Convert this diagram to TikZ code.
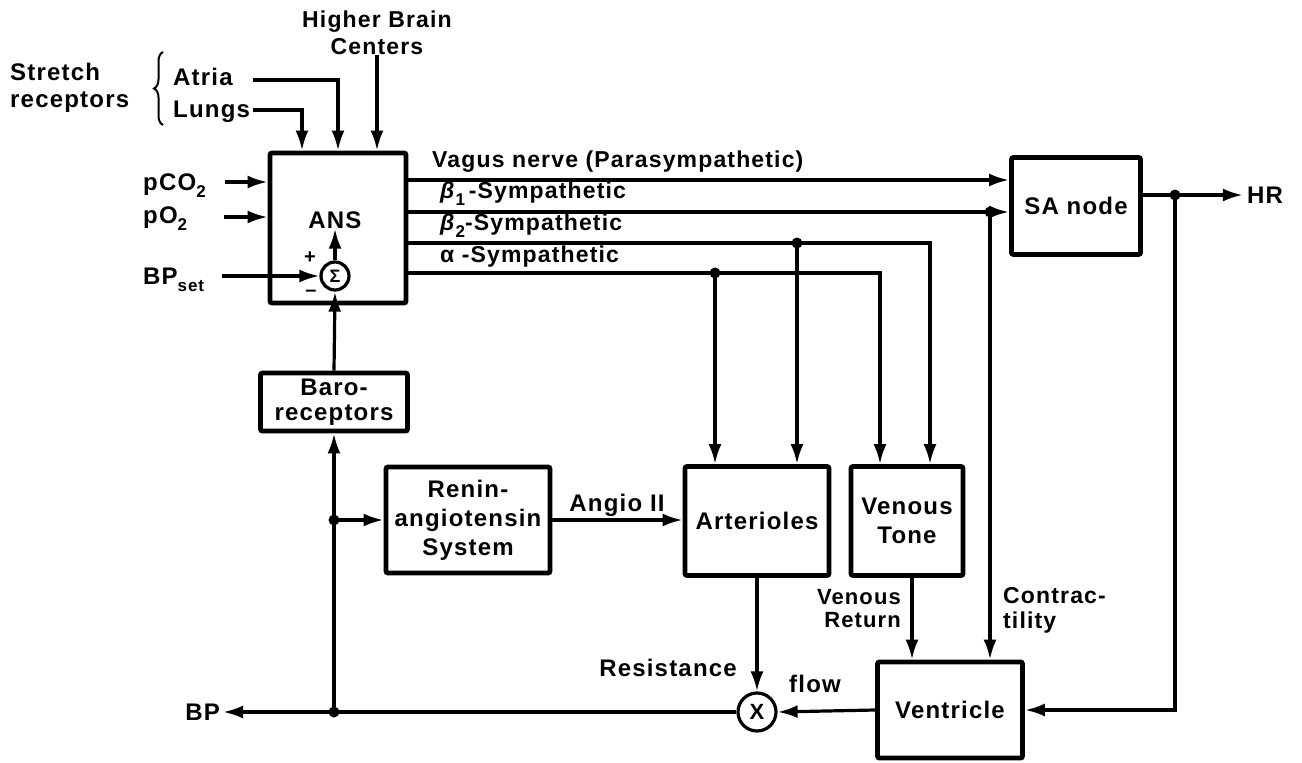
\documentclass[tikz,border=0pt]{standalone}
\usepackage{fontspec}
\setmainfont{Liberation Sans}[LetterSpace=5]
\usetikzlibrary{arrows.meta,decorations.pathreplacing}
\newcommand\mysub[1]{\raisebox{-0.55ex}{\fontsize{17}{17}\selectfont #1}}
\begin{document}
\begin{tikzpicture}[x=1pt,y=-1pt,
 lbl/.style={font=\fontsize{24}{27}\selectfont\bfseries, inner sep=0pt},
 blk/.style={draw, line width=4.8pt, rounded corners=2pt, font=\fontsize{24}{29}\selectfont\bfseries, align=center, inner sep=0pt},
 conn/.style={line width=3.2pt},
 arr/.style={conn, -{Latex[length=20pt,width=13pt]}},
 junc/.style={circle, fill, inner sep=0pt, minimum size=11pt},
 opcirc/.style={draw, circle, line width=3.2pt, inner sep=0pt}]
\useasboundingbox (0,0) rectangle (1302,763);

% blocks
\node[blk, minimum width=136pt, minimum height=150pt] (ANS) at (338,228) {};
\node[lbl] (anslbl) at (335,220) {ANS};
\node[opcirc, minimum size=28pt, font=\fontsize{18}{18}\selectfont\bfseries] (sum) at (335,276) {Σ};
\node[blk, minimum width=147pt, minimum height=58pt, font=\fontsize{24}{25}\selectfont\bfseries] (baro) at (334,402) {Baro-\\receptors};
\node[blk, minimum width=164pt, minimum height=106pt] (ras) at (468,520) {Renin-\\angiotensin\\System};
\node[blk, minimum width=144pt, minimum height=109pt] (art) at (757,521) {Arterioles};
\node[blk, minimum width=112pt, minimum height=109pt] (vt) at (907,521) {Venous\\Tone};
\node[blk, minimum width=129pt, minimum height=97pt] (SA) at (1076,206) {SA node};
\node[blk, minimum width=145pt, minimum height=96pt] (vent) at (950,710) {Ventricle};
\node[opcirc, minimum size=38pt, font=\fontsize{22}{22}\selectfont\bfseries] (mult) at (757,712) {X};

% inputs to ANS
\node[lbl, anchor=west, align=left] (str) at (10,88) {Stretch\\receptors};
\draw[line width=2pt, decorate, decoration={brace, amplitude=9pt}] (163,125) -- (163,52);
\node[lbl, anchor=west] (atria) at (173,77) {Atria};
\node[lbl, anchor=west] (lungs) at (173,112) {Lungs};
\node[lbl, align=center, font=\fontsize{23}{27}\selectfont\bfseries] (hbc) at (377,33) {Higher Brain\\Centers};
\coordinate (atS) at (253,80); \coordinate (atC) at (338,80);
\coordinate (luS) at (253,110); \coordinate (luC) at (302,110);
\draw[arr] (atS) -- (atC) -- (atC |- ANS.north);
\draw[arr] (luS) -- (luC) -- (luC |- ANS.north);
\draw[arr] (hbc.south) -- (hbc.south |- ANS.north);

\node[lbl, anchor=west] (pco) at (143,186) {pCO\mysub{2}};
\node[lbl, anchor=west] (po) at (143,219) {pO\mysub{2}};
\node[lbl, anchor=west] (bpset) at (143,280) {BP\mysub{set}};
\coordinate (pcoS) at (225,182); \coordinate (poS) at (224,217); \coordinate (bpsS) at (222,276);
\draw[arr] (pcoS) -- (ANS.west |- pcoS);
\draw[arr] (poS) -- (ANS.west |- poS);
\draw[arr] (bpsS) -- (sum.west);
\node[lbl, font=\fontsize{20}{20}\selectfont\bfseries] (plus) at (310,258) {+};
\node[lbl, font=\fontsize{20}{20}\selectfont\bfseries] (minus) at (311,293) {–};
\draw[arr] (sum.north) -- (anslbl.south);

% baroreceptor loop
\coordinate (j1) at (334,520);
\coordinate (jBP) at (334,712);
\node[lbl, anchor=east] (bp) at (220,712) {BP};
\draw[arr] (mult.west) -- ([xshift=3pt]bp.east);
\draw[conn] (j1) -- (jBP);
\draw[arr] (j1) -- (baro.south);
\draw[arr] (baro.north) -- (sum.south);
\draw[arr] (j1) -- (ras.west);
\node[junc] (j1dot) at (j1) {};
\node[junc] (jBPdot) at (jBP) {};

% middle
\node[lbl] (ang) at (617,505) {Angio II};
\draw[arr] (ras.east) -- (ras.east -| art.west);
\node[lbl, anchor=east] (res) at (737,668) {Resistance};
\draw[arr] (art.south) -- (mult.north);
\node[lbl] (flow) at (815,684) {flow};
\draw[arr] (vent.west) -- (mult.east);
\coordinate (vr) at (912,0);
\draw[arr] (vt.south -| vr) -- (vent.north -| vr);
\node[lbl, anchor=east, align=right, font=\fontsize{22}{23}\selectfont\bfseries] (vrl) at (901,609) {Venous\\Return};
\node[lbl, anchor=west, align=left, font=\fontsize{23}{25}\selectfont\bfseries] (ctl) at (1003,610) {Contrac-\\tility};

% efferent lines
\node[lbl, anchor=west, font=\fontsize{23}{25}\selectfont\bfseries] (vagl) at (432,162) {Vagus nerve (Parasympathetic)};
\node[lbl, anchor=west, font=\fontsize{23}{25}\selectfont\bfseries] (b1l) at (440,194) {\textit{β}\mysub{1}\,-Sympathetic};
\node[lbl, anchor=west, font=\fontsize{23}{25}\selectfont\bfseries] (b2l) at (440,226) {\textit{β}\mysub{2}-Sympathetic};
\node[lbl, anchor=west, font=\fontsize{23}{25}\selectfont\bfseries] (al) at (440,257) {α -Sympathetic};

\coordinate (vag) at (406,180);
\draw[arr] (ANS.east |- vag) -- (SA.west |- vag);
\coordinate (jb1) at (990,212);
\draw[arr] (ANS.east |- jb1) -- (SA.west |- jb1);
\draw[arr] (jb1) -- (vent.north -| jb1);
\node[junc] (jb1dot) at (jb1) {};

\coordinate (jb2) at (797,243); \coordinate (b2end) at (930,243);
\draw[arr] (ANS.east |- jb2) -- (b2end) -- (vt.north -| b2end);
\draw[arr] (jb2) -- (art.north -| jb2);
\node[junc] (jb2dot) at (jb2) {};

\coordinate (ja) at (715,273); \coordinate (aend) at (880,273);
\draw[arr] (ANS.east |- ja) -- (aend) -- (vt.north -| aend);
\draw[arr] (ja) -- (art.north -| ja);
\node[junc] (jadot) at (ja) {};

% HR
\coordinate (jhr) at (1175,195);
\node[lbl] (hr) at (1265,195) {HR};
\draw[conn] (SA.east |- jhr) -- (jhr);
\draw[arr] (jhr) -- ([xshift=-4pt]hr.west);
\coordinate (hrc) at (1175,710);
\draw[arr] (jhr) -- (hrc) -- (vent.east |- hrc);
\node[junc] (jhrdot) at (jhr) {};
\end{tikzpicture}
\end{document}
